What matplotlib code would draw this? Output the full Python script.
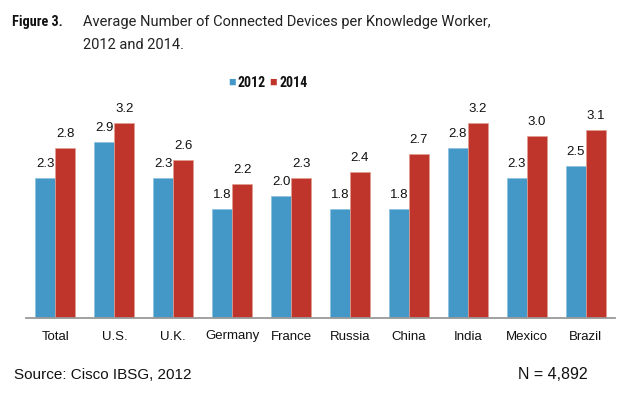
import matplotlib
matplotlib.use("Agg")
import matplotlib.pyplot as plt
import numpy as np

categories = ["Total", "U.S.", "U.K.", "Germany", "France", "Russia", "China", "India", "Mexico", "Brazil"]
values_2012 = [2.3, 2.9, 2.3, 1.8, 2.0, 1.8, 1.8, 2.8, 2.3, 2.5]
values_2014 = [2.8, 3.2, 2.6, 2.2, 2.3, 2.4, 2.7, 3.2, 3.0, 3.1]
series_labels = ["2012", "2014"]

blue = "#4398C8"
red = "#C0352B"

plt.rcParams['font.family'] = ['Liberation Sans', 'DejaVu Sans']
narrow = ['Roboto Condensed', 'Liberation Sans']

fig = plt.figure(figsize=(6.34, 3.96), dpi=100)
ax = fig.add_axes([26/634, 78/396, (615-26)/634, 200.6/396])

x = np.arange(len(categories))
w = 0.34
b1 = ax.bar(x - w/2, values_2012, w, color=blue, edgecolor="#8cc0dd", linewidth=0.5)
b2 = ax.bar(x + w/2, values_2014, w, color=red, edgecolor="#e0a090", linewidth=0.5)

for bars, vals in ((b1, values_2012), (b2, values_2014)):
    for rect, v in zip(bars, vals):
        ax.annotate(f"{v:.1f}", (rect.get_x() + rect.get_width()/2, v),
                    xytext=(0, 8), textcoords="offset pixels",
                    ha="center", va="bottom", fontsize=9.5, color="#111111")

ax.set_xlim(-0.5, len(categories) - 0.5)
ax.set_ylim(0, 3.3)
ax.set_yticks([])
ax.set_xticks(x)
ax.set_xticklabels(categories, fontsize=9.5, color="#111111")
ax.tick_params(axis="x", length=0, pad=9)
for s in ("top", "right", "left"):
    ax.spines[s].set_visible(False)
ax.spines["bottom"].set_color("#999999")
ax.spines["bottom"].set_linewidth(1.3)
ax.patch.set_alpha(0)

# legend
ly = 1 - 83/396
fig.text(228/634, ly, "\u25A0", color=blue, fontsize=9, va="center", ha="left")
fig.text(238/634, ly, series_labels[0], fontsize=10, va="center", ha="left", color="#111111", family=narrow, fontweight="bold")
fig.text(269/634, ly, "\u25A0", color=red, fontsize=9, va="center", ha="left")
fig.text(279/634, ly, series_labels[1], fontsize=10, va="center", ha="left", color="#111111", family=narrow, fontweight="bold")

fig.text(12/634, 1 - 26/396, "Figure 3.", fontsize=10.3, fontweight="bold", va="baseline", ha="left", color="#111111", family=narrow)
tfam = ['Roboto', 'Liberation Sans']
fig.text(83/634, 1 - 26/396, "Average Number of Connected Devices per Knowledge Worker,",
         fontsize=10.5, va="baseline", ha="left", color="#222222", family=tfam)
fig.text(83/634, 1 - 49/396, "2012 and 2014.", fontsize=10.5, va="baseline", ha="left", color="#222222", family=tfam)

fig.text(14/634, 1 - 379/396, "Source: Cisco IBSG, 2012", fontsize=11, va="baseline", ha="left", color="#111111")
fig.text(518/634, 1 - 379/396, "N = 4,892", fontsize=11.5, va="baseline", ha="left", color="#111111")

fig.savefig("out.png", dpi=100)
